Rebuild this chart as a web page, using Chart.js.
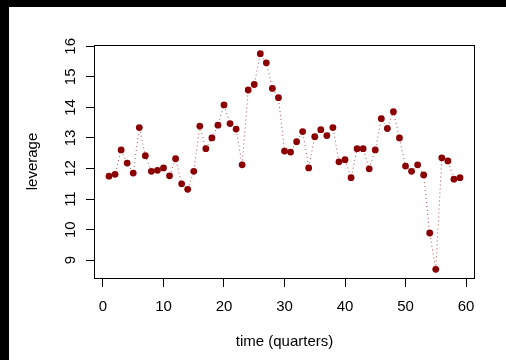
<!DOCTYPE html>
<html>
<head>
<meta charset="utf-8">
<script src="https://cdn.jsdelivr.net/npm/chart.js@4/dist/chart.umd.min.js"></script>
<style>
  html, body { margin: 0; padding: 0; background: #000; width: 506px; height: 360px; overflow: hidden; }
  #wrap { position: absolute; left: 9px; top: 7px; width: 497px; height: 353px; background: #fff; }
  canvas { display: block; }
</style>
</head>
<body>
<div id="wrap"><canvas id="c" width="497" height="353"></canvas></div>
<script>
const quarters = [1,2,3,4,5,6,7,8,9,10,11,12,13,14,15,16,17,18,19,20,21,22,23,24,25,26,27,28,29,30,
  31,32,33,34,35,36,37,38,39,40,41,42,43,44,45,46,47,48,49,50,51,52,53,54,55,56,57,58,59];
const leverage = [11.75,11.81,12.61,12.18,11.85,13.34,12.42,11.91,11.94,12.02,
  11.76,12.32,11.50,11.32,11.91,13.39,12.65,13.00,13.42,14.08,
  13.47,13.29,12.12,14.57,14.75,15.76,15.46,14.62,14.32,12.57,
  12.54,12.88,13.21,12.02,13.04,13.27,13.08,13.34,12.22,12.29,
  11.70,12.65,12.65,11.99,12.61,13.63,13.31,13.86,13.00,12.08,
  11.91,12.12,11.79,9.89,8.70,12.35,12.25,11.65,11.70];
const xTicks = [0,10,20,30,40,50,60];
const yTicks = [9,10,11,12,13,14,15,16];
const xTitle = 'time (quarters)';
const yTitle = 'leverage';

function padRange(arr) {
  const lo = Math.min(...arr), hi = Math.max(...arr), r = hi - lo;
  return [lo - 0.04 * r, hi + 0.04 * r];
}
const [xMin, xMax] = padRange(quarters);
const [yMin, yMax] = padRange(leverage);

const FONT = '"Liberation Sans", Arial, Helvetica, sans-serif';
const points = quarters.map((q, i) => ({ x: q, y: leverage[i] }));

const boxPlugin = {
  id: 'box',
  afterDatasetsDraw(chart) {
    const a = chart.chartArea, ctx = chart.ctx;
    ctx.save();
    ctx.strokeStyle = '#000';
    ctx.lineWidth = 1;
    ctx.strokeRect(Math.round(a.left) - 0.5, Math.round(a.top) + 0.5,
      Math.round(a.right - a.left) + 1, Math.round(a.bottom - a.top));
    ctx.restore();
  }
};

new Chart(document.getElementById('c'), {
  type: 'line',
  data: {
    datasets: [{
      data: points,
      borderColor: 'rgba(150,20,20,0.75)',
      borderWidth: 1,
      borderDash: [1, 3],
      pointRadius: 3.4,
      pointBackgroundColor: '#8B0000',
      pointBorderColor: '#8B0000',
      pointBorderWidth: 0,
      tension: 0,
      fill: false
    }]
  },
  options: {
    responsive: false,
    animation: false,
    events: [],
    layout: { padding: { left: 0, top: 38, right: 32, bottom: 0 } },
    plugins: { legend: { display: false }, tooltip: { enabled: false } },
    scales: {
      x: {
        type: 'linear',
        min: xMin, max: xMax,
        afterBuildTicks: s => { s.ticks = xTicks.map(v => ({ value: v })); },
        afterFit: s => { s.height = 82; },
        grid: { drawOnChartArea: false, drawTicks: true, tickLength: 9, tickColor: '#000', lineWidth: 1 },
        border: { display: false },
        ticks: { color: '#000', font: { family: FONT, size: 15 }, padding: 11, maxRotation: 0, minRotation: 0, autoSkip: false },
        title: { display: true, text: xTitle, color: '#000', font: { family: FONT, size: 15 }, padding: { top: 0, bottom: 9.5 } }
      },
      y: {
        type: 'linear',
        min: yMin, max: yMax,
        afterBuildTicks: s => { s.ticks = yTicks.map(v => ({ value: v })); },
        afterFit: s => { s.width = 86; },
        grid: { drawOnChartArea: false, drawTicks: true, tickLength: 9, tickColor: '#000', lineWidth: 1 },
        border: { display: false },
        ticks: { color: '#000', font: { family: FONT, size: 15 }, padding: 7.2, minRotation: 90, maxRotation: 90, crossAlign: 'center', autoSkip: false },
        title: { display: true, text: yTitle, color: '#000', font: { family: FONT, size: 15 }, padding: { top: 14.5, bottom: 0 } }
      }
    }
  },
  plugins: [boxPlugin]
});
</script>
</body>
</html>
